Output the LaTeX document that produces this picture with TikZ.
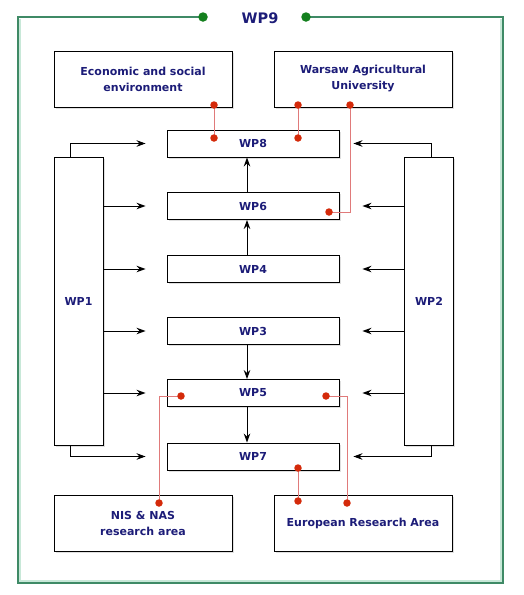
\documentclass[tikz,border=0pt]{standalone}
\usepackage{fontspec}
\setmainfont{DejaVu Sans}
\usetikzlibrary{arrows.meta,shadows}
\definecolor{navy}{HTML}{1C1C78}
\definecolor{frame}{HTML}{3F8A66}
\definecolor{framelt}{HTML}{C8E8D8}
\definecolor{redln}{HTML}{E07A7A}
\definecolor{reddt}{HTML}{D42A0A}
\definecolor{dotgreen}{HTML}{14801E}
\begin{document}
\begin{tikzpicture}[x=1pt,y=-1pt,
  box/.style={draw=black,line width=0.9pt,fill=white,inner sep=0pt,
    font=\fontsize{11}{16}\selectfont\bfseries,text=navy,align=center,
    drop shadow={shadow xshift=1.5pt,shadow yshift=-1.5pt,opacity=0.25}},
  bigbox/.style={box,minimum width=178pt,minimum height=56pt},
  wpbox/.style={box,minimum width=172pt,minimum height=27pt},
  sidebox/.style={box,minimum width=49pt,minimum height=288pt},
  arr/.style={draw=black,line width=0.9pt,-{Stealth[length=9pt,width=6.5pt]}},
  redline/.style={draw=redln,line width=1pt},
  reddot/.style={circle,fill=reddt,inner sep=0pt,minimum size=7.5pt},
  gdot/.style={circle,fill=dotgreen,inner sep=0pt,minimum size=9.5pt}]
\useasboundingbox (0,0) rectangle (523,595);
% outer frame
\draw[framelt,line width=1.5pt] (19.8,18.8) -- (19.8,581.2) -- (501.2,581.2) -- (501.2,18.8);
\draw[frame,line width=1.1pt] (203,17) -- (18,17) -- (18,583) -- (503,583) -- (503,17) -- (306,17);
\node[gdot] (g1) at (203,17) {};
\node[gdot] (g2) at (306,17) {};
\node[font=\fontsize{14.5}{16}\selectfont\bfseries,text=navy] (title) at (260,18) {WP9};
% boxes
\node[bigbox] (econ) at (143,79) {Economic and social\\environment};
\node[bigbox] (wau) at (363,79) {Warsaw Agricultural\\University};
\node[wpbox] (wp8) at (253,143.5) {WP8};
\node[wpbox] (wp6) at (253,206) {WP6};
\node[wpbox] (wp4) at (253,269) {WP4};
\node[wpbox] (wp3) at (253,331) {WP3};
\node[wpbox] (wp5) at (253,393) {WP5};
\node[wpbox] (wp7) at (253,456.5) {WP7};
\node[sidebox] (wp1) at (78.5,301) {WP1};
\node[sidebox] (wp2) at (429,301) {WP2};
\node[bigbox] (nis) at (143,523.5) {NIS \& NAS\\research area};
\node[bigbox] (era) at (363,523.5) {European Research Area};
% WP1 arrows
\draw[arr] ([xshift=-8.5pt]wp1.north) |- ([xshift=-21pt]wp8.west);
\foreach \t in {wp6,wp4,wp3,wp5}
  \draw[arr] (wp1.east |- \t.west) -- ([xshift=-21pt]\t.west);
\draw[arr] ([xshift=-8.5pt]wp1.south) |- ([xshift=-21pt]wp7.west);
% WP2 arrows
\draw[arr] ([xshift=2pt]wp2.north) |- ([xshift=14pt]wp8.east);
\foreach \t in {wp6,wp4,wp3,wp5}
  \draw[arr] (wp2.west |- \t.east) -- ([xshift=23pt]\t.east);
\draw[arr] ([xshift=2pt]wp2.south) |- ([xshift=14pt]wp7.east);
% vertical arrows
\draw[arr] ([xshift=-6pt]wp6.north) -- ([xshift=-6pt]wp8.south);
\draw[arr] ([xshift=-6pt]wp4.north) -- ([xshift=-6pt]wp6.south);
\draw[arr] ([xshift=-6pt]wp3.south) -- ([xshift=-6pt]wp5.north);
\draw[arr] ([xshift=-6pt]wp5.south) -- ([xshift=-6pt]wp7.north);
% red connectors
\coordinate (e1) at (214,105);
\coordinate (e2) at (214,138);
\coordinate (w1) at (298,105);
\coordinate (w2) at (298,138);
\coordinate (w3) at (350,105);
\coordinate (w4) at (329,212);
\coordinate (p1) at (181,396);
\coordinate (p2) at (159,503);
\coordinate (p3) at (326,396);
\coordinate (p4) at (347,503);
\coordinate (p5) at (298,468);
\coordinate (p6) at (298,501);
\draw[redline] (e1) -- (e2);
\draw[redline] (w1) -- (w2);
\draw[redline] (w3) |- (w4);
\draw[redline] (p1) -| (p2);
\draw[redline] (p3) -| (p4);
\draw[redline] (p5) -- (p6);
\foreach \c in {e1,e2,w1,w2,w3,w4,p1,p2,p3,p4,p5,p6}
  \node[reddot] at (\c) {};
\end{tikzpicture}
\end{document}
